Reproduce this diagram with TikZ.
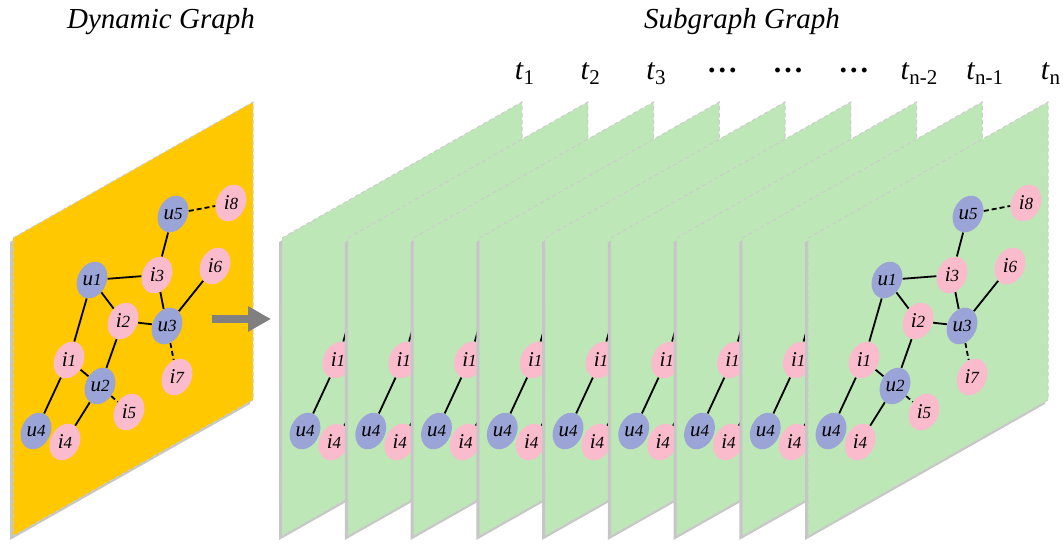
\documentclass[tikz,border=0pt]{standalone}
\usepackage{fontspec}
\setmainfont{Liberation Serif}
\usetikzlibrary{arrows.meta, shapes.geometric}
\definecolor{panelyellow}{RGB}{255,200,0}
\definecolor{panelgreen}{RGB}{190,231,183}
\definecolor{userblue}{RGB}{154,164,214}
\definecolor{itempink}{RGB}{250,187,204}
\definecolor{arrowgray}{RGB}{128,128,128}
\newcommand{\nlab}[2]{\rotatebox{25}{\textit{#1}{\fontsize{8.5}{9}\selectfont\textit{#2}}}}
\newcommand{\tlab}[1]{\textit{t}\textsubscript{#1}}
\newcommand{\tdots}{\raisebox{0.25em}{\bfseries .\kern1.5pt.\kern1.5pt.}}
\newcommand{\drawpanel}[2]{%
  \fill[panelshadow] (#1,238) -- ++(240,-136) -- ++(0,298) -- ++(-240,136) -- cycle;
  \fill[#2] (#1,238) -- ++(240,-136) -- ++(0,298) -- ++(-240,136) -- cycle;
  \draw[panelborder] (#1,238) -- ++(240,-136) -- ++(0,298) -- ++(-240,136) -- cycle;
}
\newcommand{\drawleftpart}[2]{%
  \begin{scope}[shift={(#1,0)}]
    \node[usernode] (#2-u1) at (79,280) {\nlab{u}{1}};
    \node[itemnode] (#2-i1) at (56,360) {\nlab{i}{1}};
    \node[usernode] (#2-u2) at (87,386) {\nlab{u}{2}};
    \node[usernode] (#2-u4) at (23,431) {\nlab{u}{4}};
    \node[itemnode] (#2-i4) at (52,442) {\nlab{i}{4}};
    \draw[edge] (#2-u1) -- (#2-i1);
    \draw[edge] (#2-i1) -- (#2-u2);
    \draw[edge] (#2-i1) -- (#2-u4);
    \draw[edge] (#2-u2) -- (#2-i4);
  \end{scope}
}
\newcommand{\drawrightpart}[2]{%
  \begin{scope}[shift={(#1,0)}]
    \node[usernode] (#2-u5) at (160,214) {\nlab{u}{5}};
    \node[itemnode] (#2-i8) at (218,203) {\nlab{i}{8}};
    \node[itemnode] (#2-i3) at (144,275) {\nlab{i}{3}};
    \node[itemnode] (#2-i6) at (202,266) {\nlab{i}{6}};
    \node[itemnode] (#2-i2) at (110,321) {\nlab{i}{2}};
    \node[usernode] (#2-u3) at (154,326) {\nlab{u}{3}};
    \node[itemnode] (#2-i7) at (164,377) {\nlab{i}{7}};
    \node[itemnode] (#2-i5) at (116,412) {\nlab{i}{5}};
    \draw[edge] (#2-u5) -- (#2-i3);
    \draw[edge] (#2-u1) -- (#2-i3);
    \draw[edge] (#2-u1) -- (#2-i2);
    \draw[edge] (#2-i3) -- (#2-u3);
    \draw[edge] (#2-u3) -- (#2-i6);
    \draw[edge] (#2-i2) -- (#2-u3);
    \draw[edge] (#2-i2) -- (#2-u2);
    \draw[dashededge] (#2-u5) -- (#2-i8);
    \draw[dashededge] (#2-u3) -- (#2-i7);
    \draw[dashededge] (#2-u2) -- (#2-i5);
  \end{scope}
}

\begin{document}
\begin{tikzpicture}[x=0.5pt, y=-0.5pt,
    panelshadow/.style={fill=gray!45, shift={(-3,4)}},
    panelborder/.style={draw=gray!40, dash pattern=on 2pt off 1.5pt, line width=0.5pt},
    graphnode/.style={ellipse, rotate=-25, minimum width=14.5pt, minimum height=19pt, inner sep=-1pt, font=\fontsize{10.5}{11}\selectfont},
    usernode/.style={graphnode, fill=userblue},
    itemnode/.style={graphnode, fill=itempink},
    edge/.style={line width=0.9pt},
    dashededge/.style={line width=0.9pt, dash pattern=on 2.5pt off 1.5pt},
    title/.style={font=\fontsize{14.5}{16}\selectfont\itshape},
    tag/.style={anchor=base, font=\fontsize{15}{16}\selectfont},
    bigarrow/.style={draw=arrowgray, fill=arrowgray, line width=4pt, -{Triangle[length=11.5pt, width=12pt]}}]
  \useasboundingbox (0,0) rectangle (1064,544);
  \node[title] (dyntitle) at (161,22) {Dynamic Graph};
  \node[title] (subtitle) at (742,22) {Subgraph Graph};
  \drawpanel{13}{panelyellow}
  \drawleftpart{13}{d}
  \drawrightpart{13}{d}
  \coordinate (arrowtail) at (212,319);
  \coordinate (arrowtip) at (271,319);
  \draw[bigarrow] (arrowtail) -- (arrowtip);
  \foreach \k [evaluate=\k as \xl using 282+65.75*(\k-1)] in {1,...,8} {
    \drawpanel{\xl}{panelgreen}
    \drawleftpart{\xl}{s\k}
  }
  \drawpanel{808}{panelgreen}
  \drawleftpart{808}{s9}
  \drawrightpart{808}{s9}
  \foreach \k/\txt in {1/{\tlab{1}}, 2/{\tlab{2}}, 3/{\tlab{3}}, 4/{\tdots}, 5/{\tdots}, 6/{\tdots}, 7/{\tlab{n-2}}, 8/{\tlab{n-1}}, 9/{\tlab{n}}}
    \node[tag] (tag\k) at ({282+65.75*(\k-1)+243},80) {\txt};
\end{tikzpicture}
\end{document}
